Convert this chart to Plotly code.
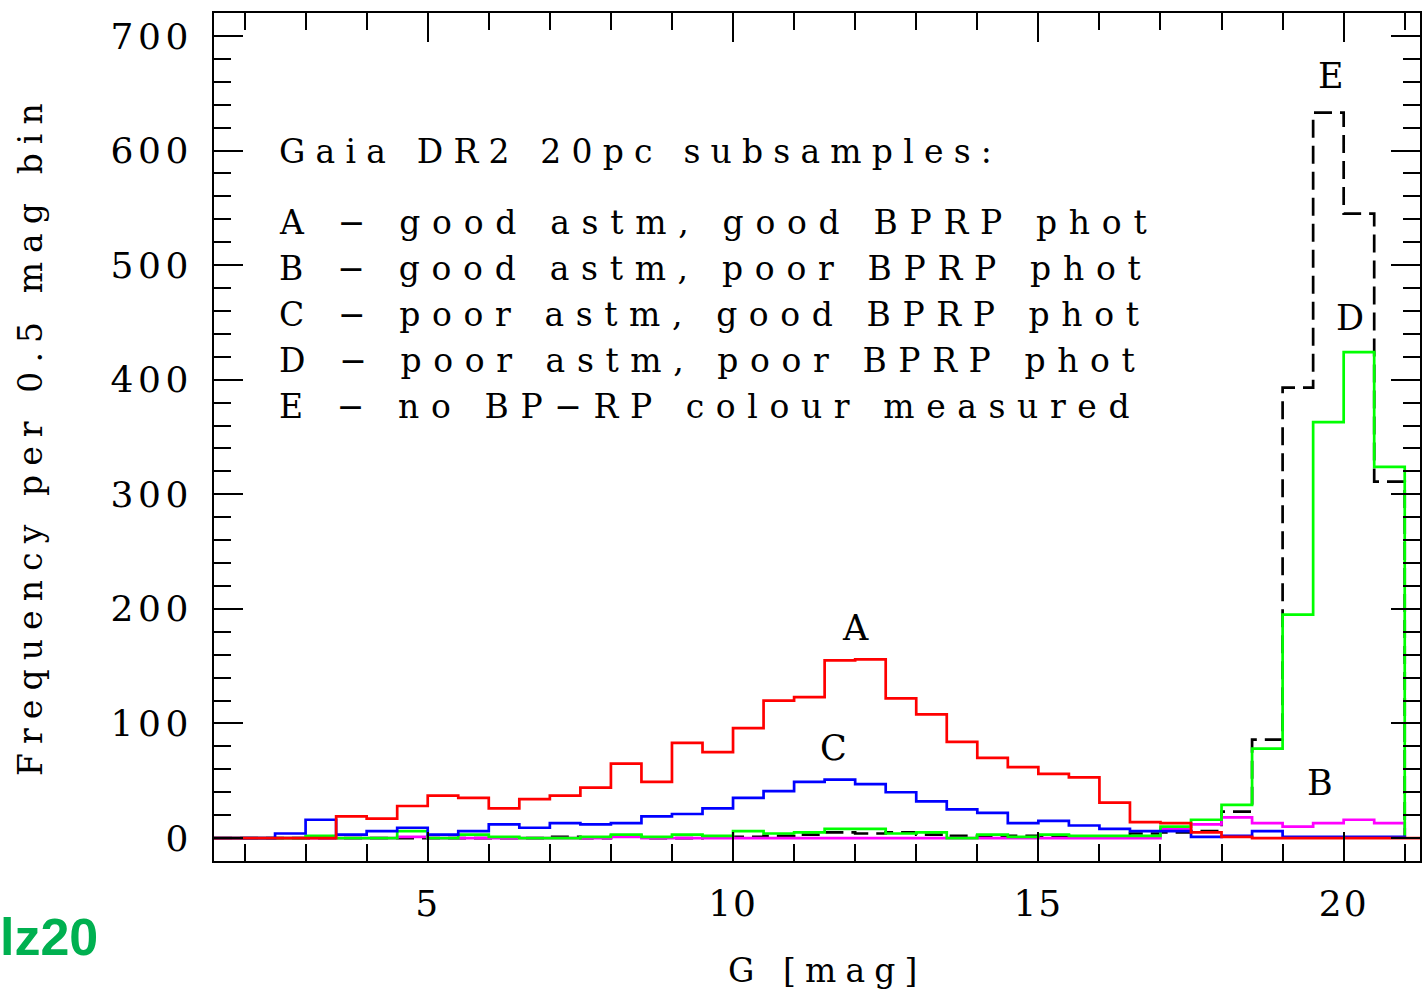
import plotly.graph_objects as go

# ---------------- data (counts per 0.5 mag bin; bins start at G = 1.5) ----------------
bin_start = 1.5
bin_width = 0.5
counts_A = [0, 0, 0, 0, 19, 17, 28, 37, 35, 26, 34, 37, 44, 65, 49, 83, 75, 96, 120, 123,
            155, 156, 122, 108, 84, 70, 62, 56, 53, 31, 14, 13, 5, 1, 0, 0, 0, 0, 0]
counts_B = [0, 0, 0, 0, 0, 0, 1, 0, 0, 0, 0, 0, 0, 1, 0, 0, 0, 0, 0, 0,
            0, 0, 0, 0, 0, 0, 0, 0, 0, 0, 0, 8, 12, 18, 13, 10, 13, 16, 13]
counts_C = [0, 0, 4, 16, 3, 6, 9, 3, 6, 12, 9, 13, 12, 13, 19, 21, 26, 35, 41, 49,
            51, 47, 40, 32, 25, 22, 13, 15, 11, 8, 6, 6, 1, 2, 6, 1, 1, 1, 1]
counts_D = [0, 0, 0, 2, 0, 0, 6, 0, 3, 1, 0, 0, 1, 3, 1, 3, 2, 6, 4, 5,
            8, 8, 4, 5, 0, 3, 1, 3, 2, 2, 2, 10, 16, 29, 78, 195, 363, 424, 324]
counts_E = [0, 0, 0, 0, 0, 0, 0, 0, 0, 0, 0, 1, 0, 2, 0, 0, 1, 1, 2, 3,
            5, 4, 5, 3, 2, 1, 2, 2, 1, 1, 4, 5, 6, 23, 86, 393, 633, 545, 311]

legend_title = "Gaia DR2 20pc subsamples:"
legend_lines = ["A \u2212 good astm, good BPRP phot",
                "B \u2212 good astm, poor BPRP phot",
                "C \u2212 poor astm, good BPRP phot",
                "D \u2212 poor astm, poor BPRP phot",
                "E \u2212 no BP\u2212RP colour measured"]
y_ticks = [0, 100, 200, 300, 400, 500, 600, 700]
x_ticks = [5, 10, 15, 20]
x_title = "G [mag]"
y_title = "Frequency per 0.5 mag bin"
curve_labels = [("A", 12.0, 183), ("C", 11.65, 79), ("B", 19.61, 48),
                ("D", 20.10, 454), ("E", 19.79, 665)]

# ---------------- layout geometry / styling ----------------
W, H = 1422, 993
L, R, T, B = 214, 2, 13, 132
PW, PH = W - L - R, H - T - B
FONT = "DejaVu Serif"
TXT = 33

# approximate advance widths of DejaVu Serif (em) used to spread text like the
# wide Hershey font of the original
ADV = {" ": .318, "a": .596, "b": .640, "c": .560, "d": .640, "e": .592, "f": .370,
       "g": .640, "h": .644, "i": .320, "l": .320, "m": .948, "n": .644, "o": .602,
       "p": .640, "q": .640, "r": .478, "s": .513, "t": .402, "u": .644, "y": .565,
       "A": .722, "B": .735, "C": .752, "D": .831, "E": .730, "G": .812, "P": .673,
       "R": .770, ":": .337, ",": .318, ".": .318, "\u2212": .838, "[": .39, "]": .39}


def spread(s, size, target_px):
    nat = sum(ADV.get(c, .63) for c in s) * size
    ls = max(0.0, (target_px - nat) / max(1, len(s) - 1))
    return f'<span style="letter-spacing:{ls:.1f}px">{s}</span>'


def sp(s, ls):
    return f'<span style="letter-spacing:{ls}px">{s}</span>'


def step_trace(counts, color, dash="solid", extend_to=None):
    n = len(counts)
    xs = [bin_start + i * bin_width for i in range(n + 1)]
    ys = list(counts) + [0]
    if extend_to is not None:
        xs.append(extend_to)
        ys.append(0)
    return go.Scatter(x=xs, y=ys, mode="lines", line_shape="hv",
                      line=dict(color=color, width=2.7, dash=dash),
                      hoverinfo="skip", showlegend=False)


fig = go.Figure()
fig.add_trace(step_trace(counts_E, "#000000", dash="18px,8px"))
fig.add_trace(step_trace(counts_B, "#ff00ff"))
fig.add_trace(step_trace(counts_D, "#00ff00"))
fig.add_trace(step_trace(counts_C, "#0000ff"))
fig.add_trace(step_trace(counts_A, "#ff0000", extend_to=21.25))

axis_common = dict(showline=True, linecolor="black", linewidth=2, mirror="ticks",
                   ticks="inside", tickcolor="black", tickwidth=2, ticklen=29,
                   showgrid=False, zeroline=False,
                   tickfont=dict(family=FONT, size=36, color="black"))

fig.update_xaxes(range=[1.5, 21.25], tickmode="array", tickvals=x_ticks,
                 ticktext=[sp(str(v), 2) for v in x_ticks],
                 minor=dict(tickmode="linear", tick0=0, dtick=1, ticks="inside",
                            ticklen=17, tickwidth=2, tickcolor="black"),
                 ticklabelstandoff=10, **axis_common)
fig.update_yaxes(range=[-20, 720], tickmode="array", tickvals=y_ticks,
                 ticktext=[sp(str(v), 4.5) for v in y_ticks],
                 minor=dict(tickmode="linear", tick0=0, dtick=20, ticks="inside",
                            ticklen=17, tickwidth=2, tickcolor="black"),
                 ticklabelstandoff=12, **axis_common)


def px_x(px):
    return (px - L) / PW


def px_y(py):
    return (T + PH - py) / PH


def ann_px(text, px, py, xanchor="left", size=TXT, angle=0, color="black", family=FONT):
    fig.add_annotation(text=text, xref="paper", yref="paper", x=px_x(px), y=px_y(py),
                       xanchor=xanchor, yanchor="middle", showarrow=False,
                       textangle=angle, font=dict(family=family, size=size, color=color))


# legend block (left edge and right-end targets of each text line)
ann_px(spread(legend_title, TXT, 992 - 277), 277, 152)
line_right = [1143, 1138, 1137, 1133, 1127]
for i, (line, rx) in enumerate(zip(legend_lines, line_right)):
    ann_px(spread(line, TXT, rx - 277), 277, 222 + 46 * i)

# axis titles
ann_px(spread(x_title, TXT, 190), 827, 970, xanchor="center")
ann_px(spread(y_title, TXT, 670), 30, 435, xanchor="center", angle=-90)

# curve labels (data coordinates)
for t, xv, yv in curve_labels:
    fig.add_annotation(text=t, x=xv, y=yv, xref="x", yref="y", showarrow=False,
                       font=dict(family=FONT, size=35, color="black"))

# corner tag
ann_px("lz20", -2, 937, xanchor="left", size=52, color="#00b050",
       family="Liberation Sans")
fig.layout.annotations[-1].font.weight = "bold"

fig.update_layout(width=W, height=H, margin=dict(l=L, r=R, t=T, b=B, autoexpand=False),
                  paper_bgcolor="white", plot_bgcolor="white")

fig.write_html("out.html")
